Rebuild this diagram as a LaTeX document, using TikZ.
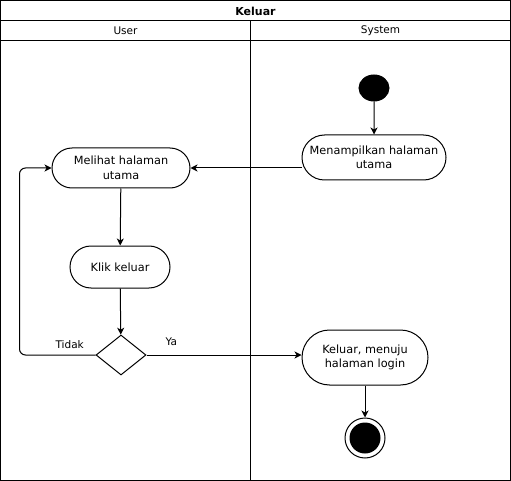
\documentclass[tikz,border=0pt]{standalone}
\usepackage{fontspec}
\setmainfont{DejaVu Sans}
\usetikzlibrary{shapes.geometric,shapes.misc,arrows.meta,positioning,calc}

\begin{document}
\begin{tikzpicture}[
  x=1pt, y=-1pt, line width=1pt,
  font=\fontsize{11.3}{14.5}\selectfont,
  act/.style={draw, rounded rectangle, align=center, inner sep=2pt},
  lane/.style={font=\fontsize{10.5}{12}\selectfont},
  startdot/.style={draw, ellipse, fill=black, minimum width=30, minimum height=26, inner sep=0pt},
  enddot/.style={draw, circle, minimum size=40, inner sep=0pt,
                 path picture={\fill (path picture bounding box.center) circle (15.5);}},
  choice/.style={draw, diamond, minimum width=50, minimum height=40, inner sep=0pt},
  arr/.style={draw, -{Stealth[length=7pt,width=7pt,inset=2pt]}},
  lbl/.style={font=\fontsize{10.5}{12}\selectfont}
]
\useasboundingbox (0,0) rectangle (511,481);
% Swimlanes
\draw (0.5,0.5) rectangle (510.5,480.5);
\draw (0.5,20.5) -- (510.5,20.5);
\draw (0.5,40.5) -- (510.5,40.5);
\draw (250.5,20.5) -- (250.5,480.5);
\node[font=\fontsize{11}{13}\selectfont\bfseries] (judul) at (255.5,11) {Keluar};
\node[lane] (user) at (125.5,30.5) {User};
\node[lane] (system) at (380.5,30.5) {System};
% System
\node[startdot] (mulai) at (374,88) {};
\node[act, minimum width=148, minimum height=45] (tampil) at (374,157.5) {Menampilkan halaman\\utama};
% User
\node[act, minimum width=142, minimum height=40] (melihat) at (121,168) {Melihat halaman\\utama};
\node[act, minimum width=104, minimum height=42] (klik) at (120,267) {Klik keluar};
\node[choice] (pilih) at (121,355) {};
% Exit
\node[act, minimum width=130, minimum height=55] (keluar) at (365,357.5) {Keluar, menuju\\halaman login};
\node[enddot] (selesai) at (365,438) {};
% Connections
\draw[arr] (mulai) -- (tampil);
\draw[arr] (tampil.west |- melihat.east) -- (melihat.east);
\draw[arr] (melihat) -- (klik);
\draw[arr] (klik) -- (pilih);
\draw[arr, rounded corners=6] (pilih.west) -- ++(-76,0) node[lbl, pos=0.34, above=3pt] {Tidak} |- (melihat.west);
\draw[arr] (pilih.east) -- node[lbl, pos=0.16, above=6pt] {Ya} (keluar.west |- pilih.east);
\draw[arr] (keluar) -- (selesai);
\end{tikzpicture}
\end{document}
